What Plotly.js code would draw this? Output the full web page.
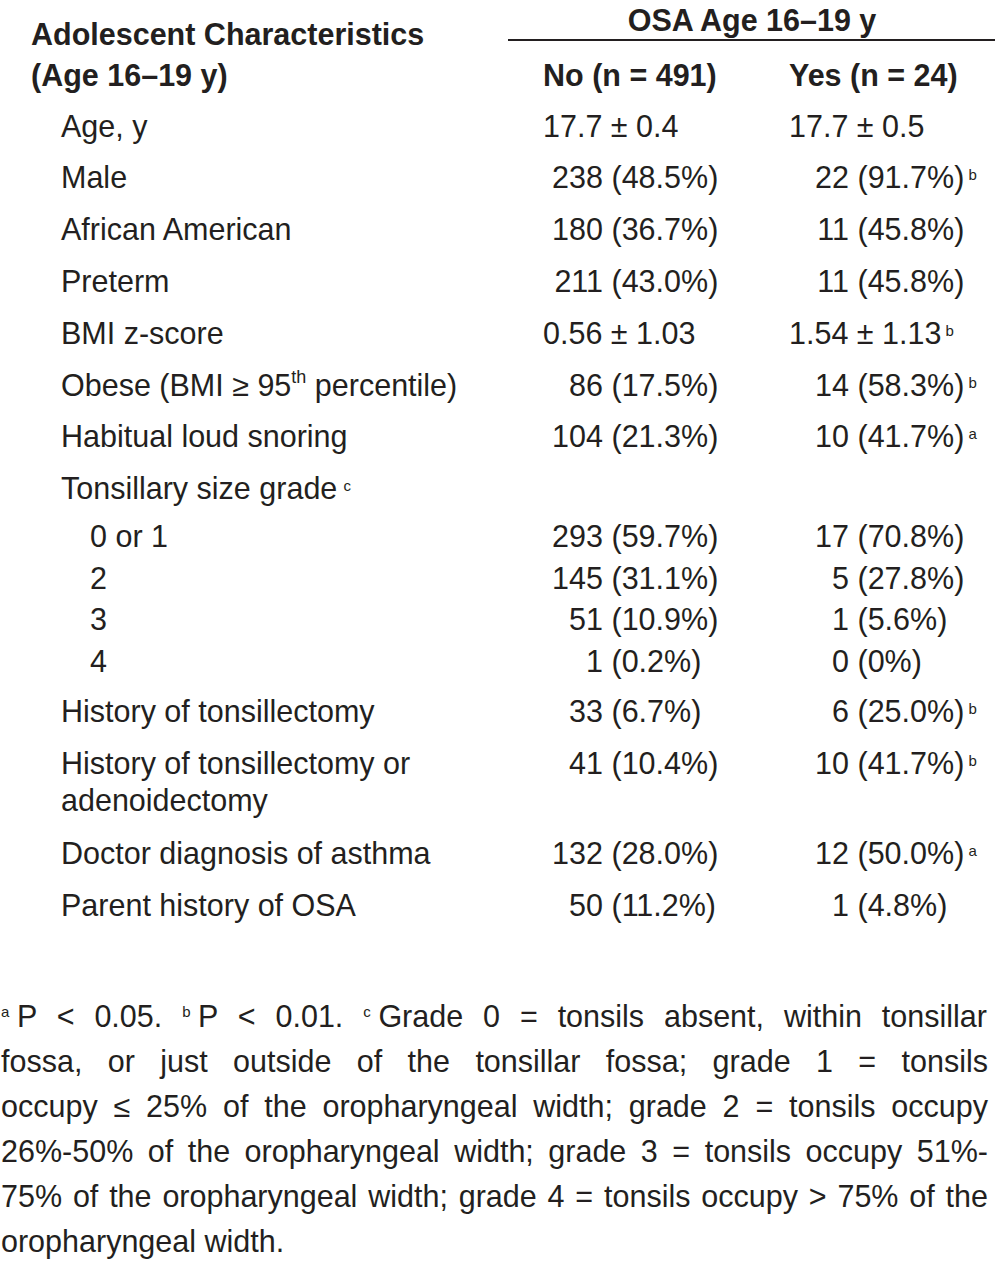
<!DOCTYPE html>
<html>
<head>
<meta charset="utf-8">
<script src="https://cdn.plot.ly/plotly-3.0.1.min.js"></script>
<style>
html,body{margin:0;padding:0;background:#fff;}
#chart{width:996px;height:1261px;}
</style>
</head>
<body>
<div id="chart"></div>
<script>
// ---------------- DATA ----------------
const stubHeader = ["Adolescent Characteristics", "(Age 16–19 y)"];
const groupTitle = "OSA Age 16–19 y";
const groupHeaders = ["No (n = 491)", "Yes (n = 24)"];

const rowLabels = [
  "Age, y",
  "Male",
  "African American",
  "Preterm",
  "BMI z-score",
  "Obese (BMI ≥ 95<sup>th</sup> percentile)",
  "Habitual loud snoring",
  "Tonsillary size grade<sup>c</sup>",
  "0 or 1",
  "2",
  "3",
  "4",
  "History of tonsillectomy",
  "History of tonsillectomy or<br>adenoidectomy",
  "Doctor diagnosis of asthma",
  "Parent history of OSA"
];
const rowLevel = [0,0,0,0,0,0,0,0,1,1,1,1,0,0,0,0];

const noMeanSD  = ["17.7 ± 0.4", "", "", "", "0.56 ± 1.03", "", "", "", "", "", "", "", "", "", "", ""];
const yesMeanSD = ["17.7 ± 0.5", "", "", "", "1.54 ± 1.13", "", "", "", "", "", "", "", "", "", "", ""];

const noCount    = ["", "238", "180", "211", "", "86", "104", "", "293", "145", "51", "1", "33", "41", "132", "50"];
const noPercent  = ["", "48.5", "36.7", "43.0", "", "17.5", "21.3", "", "59.7", "31.1", "10.9", "0.2", "6.7", "10.4", "28.0", "11.2"];
const yesCount   = ["", "22", "11", "11", "", "14", "10", "", "17", "5", "1", "0", "6", "10", "12", "1"];
const yesPercent = ["", "91.7", "45.8", "45.8", "", "58.3", "41.7", "", "70.8", "27.8", "5.6", "0", "25.0", "41.7", "50.0", "4.8"];
const yesSignif  = ["", "b", "", "", "b", "b", "a", "", "", "", "", "", "b", "b", "a", ""];

const footnoteLines = [
  "<sup>a</sup>\u2005P &lt; 0.05. <sup>b</sup>\u2005P &lt; 0.01. <sup>c</sup>\u2005Grade 0 = tonsils absent, within tonsillar",
  "fossa, or just outside of the tonsillar fossa; grade 1 = tonsils",
  "occupy ≤ 25% of the oropharyngeal width; grade 2 = tonsils occupy",
  "26%-50% of the oropharyngeal width; grade 3 = tonsils occupy 51%-",
  "75% of the oropharyngeal width; grade 4 = tonsils occupy &gt; 75% of the",
  "oropharyngeal width."
];

// ---------------- STYLE / LAYOUT CONSTANTS ----------------
const FONT = '"Liberation Sans", Arial, Helvetica, sans-serif';
const FS = 30.5;
const SIGFS = 15;      // footnote marker letters
const SUPFS = 18;      // ordinal superscript ("th")
const INK = '#231f20';
const W = 996, H = 1261;
const TEXT_DY = 3;

const X_STUB = 31, X_LABEL = 61, X_SUB = 90;
const X_NO_MEAN = 543, X_NO_CNT = 603, X_NO_PCT = 611.5;
const X_YES_MEAN = 789, X_YES_CNT = 849, X_YES_PCT = 857.5;
const X_GROUP_CENTER = 752;
const RULE_X0 = 508, RULE_X1 = 995, RULE_Y = 40;
const Y_TITLE = 20, Y_STUB1 = 34, Y_STUB2 = 75;
const FOOT_X0 = 1, FOOT_X1 = 988, FOOT_Y0 = 1016, FOOT_STEP = 45;

// marker letters (a, b, c) -> small raised span; other superscripts -> <sup>
function styleSups(s, shift) {
  return s.replace(/<sup>(.*?)<\/sup>/g, (m, t) => {
    if (/^[\u00a0]?[abc]$/.test(t)) {
      return '<span style="font-size:' + SIGFS + 'px;baseline-shift:' + (shift || 8) + 'px">' + t + '</span>';
    }
    return '<sup><span style="font-size:' + SUPFS + 'px">' + t + '</span></sup>';
  });
}
const sigTail = s => s ? styleSups('<sup>\u00a0' + s + '</sup>') : '';

// ---------------- ROW POSITIONS ----------------
const rowY = [];
{
  let y = 126;
  for (let i = 0; i < rowLabels.length; i++) {
    if (i > 0) {
      const a = rowLevel[i - 1], b = rowLevel[i];
      let step = (a === b) ? (b ? 41.5 : 51.8) : (b ? 48 : 50);
      if (rowLabels[i - 1].includes('<br>')) step += 39;
      y += step;
    }
    rowY.push(y);
  }
}

// ---------------- TRACES ----------------
function textTrace(xs, ys, texts, pos) {
  return {
    type: 'scatter', mode: 'text',
    x: xs, y: ys.map(v => v + TEXT_DY), text: texts,
    textposition: pos,
    textfont: {family: FONT, size: FS, color: INK},
    hoverinfo: 'skip', showlegend: false, cliponaxis: false
  };
}

const traces = [];

// row labels (wrapped labels split onto their own lines)
{
  const xs = [], ys = [], ts = [];
  rowLabels.forEach((lab, i) => {
    lab.split('<br>').forEach((p, k) => {
      xs.push(rowLevel[i] ? X_SUB : X_LABEL);
      ys.push(rowY[i] + k * 37);
      ts.push(styleSups(p.replace('grade<sup>', 'grade\u2009<sup>')));
    });
  });
  traces.push(textTrace(xs, ys, ts, 'middle right'));
}

// mean ± SD cells
{
  const xs = [], ys = [], ts = [];
  noMeanSD.forEach((v, i) => { if (v) { xs.push(X_NO_MEAN); ys.push(rowY[i]); ts.push(v); } });
  yesMeanSD.forEach((v, i) => {
    if (v) { xs.push(X_YES_MEAN); ys.push(rowY[i]); ts.push(v + sigTail(yesSignif[i])); }
  });
  traces.push(textTrace(xs, ys, ts, 'middle right'));
}

// count cells (right aligned)
{
  const xs = [], ys = [], ts = [];
  noCount.forEach((v, i) => { if (v) { xs.push(X_NO_CNT); ys.push(rowY[i]); ts.push(v); } });
  yesCount.forEach((v, i) => { if (v) { xs.push(X_YES_CNT); ys.push(rowY[i]); ts.push(v); } });
  traces.push(textTrace(xs, ys, ts, 'middle left'));
}

// percent cells (left aligned)
{
  const xs = [], ys = [], ts = [];
  noPercent.forEach((v, i) => { if (v) { xs.push(X_NO_PCT); ys.push(rowY[i]); ts.push('(' + v + '%)'); } });
  yesPercent.forEach((v, i) => {
    if (v) { xs.push(X_YES_PCT); ys.push(rowY[i]); ts.push('(' + v + '%)' + sigTail(yesSignif[i])); }
  });
  traces.push(textTrace(xs, ys, ts, 'middle right'));
}

// headers
traces.push(textTrace([X_STUB, X_STUB, X_NO_MEAN, X_YES_MEAN],
  [Y_STUB1, Y_STUB2, Y_STUB2, Y_STUB2],
  stubHeader.concat(groupHeaders).map(t => '<b>' + t + '</b>'), 'middle right'));
traces.push(textTrace([X_GROUP_CENTER], [Y_TITLE], ['<b>' + groupTitle + '</b>'], 'middle center'));

// footnote, justified via word spacing
{
  const cvs = document.createElement('canvas');
  const ctx = cvs.getContext('2d');
  const decode = s => s.replace(/&lt;/g, '<').replace(/&gt;/g, '>');
  function measureWord(w) {
    let total = 0, last = 0, m;
    const re = /<sup>(.*?)<\/sup>/g;
    while ((m = re.exec(w)) !== null) {
      ctx.font = FS + 'px ' + FONT;
      total += ctx.measureText(decode(w.slice(last, m.index))).width;
      ctx.font = SIGFS + 'px ' + FONT;
      total += ctx.measureText(decode(m[1])).width;
      last = re.lastIndex;
    }
    ctx.font = FS + 'px ' + FONT;
    total += ctx.measureText(decode(w.slice(last))).width;
    return total;
  }
  ctx.font = FS + 'px ' + FONT;
  const spaceW = ctx.measureText(' ').width;
  const xs = [], ys = [], ts = [];
  footnoteLines.forEach((line, k) => {
    let txt = styleSups(line, 10);
    if (k < footnoteLines.length - 1) {
      const words = line.split(' ');
      const natural = words.reduce((s, w) => s + measureWord(w), 0) + (words.length - 1) * spaceW;
      const extra = (FOOT_X1 - FOOT_X0 - natural) / (words.length - 1);
      txt = '<span style="word-spacing:' + extra.toFixed(2) + 'px">' + txt + '</span>';
    }
    xs.push(FOOT_X0); ys.push(FOOT_Y0 + k * FOOT_STEP); ts.push(txt);
  });
  traces.push(textTrace(xs, ys, ts, 'middle right'));
}

const layout = {
  width: W, height: H,
  margin: {l: 0, r: 0, t: 0, b: 0, pad: 0},
  paper_bgcolor: '#ffffff', plot_bgcolor: '#ffffff',
  font: {family: FONT, size: FS, color: INK},
  showlegend: false,
  xaxis: {range: [0, W], visible: false, fixedrange: true},
  yaxis: {range: [H, 0], visible: false, fixedrange: true},
  shapes: [{
    type: 'line', xref: 'x', yref: 'y',
    x0: RULE_X0, x1: RULE_X1, y0: RULE_Y, y1: RULE_Y,
    line: {color: INK, width: 2}
  }]
};

Plotly.newPlot('chart', traces, layout, {staticPlot: true, displayModeBar: false});
</script>
</body>
</html>
